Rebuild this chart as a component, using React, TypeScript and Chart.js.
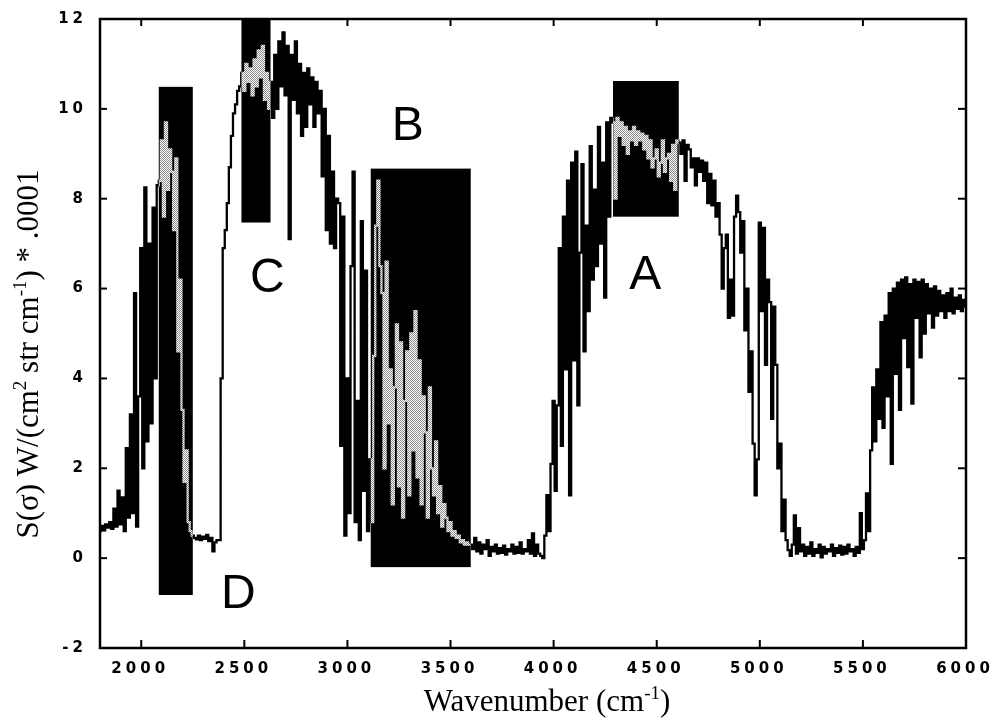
import { useEffect, useRef } from 'react';
import { Chart, registerables } from 'chart.js';

Chart.register(...registerables);

// Spectrum, sampled every 10 cm-1; each segment lists the first wavenumber and its values.
const WN_STEP = 10;
const lowEdge = [0.6, 0.72, 0.62, 0.75, 0.68, 0.8, 0.65, 1.1, 0.7, 1.5, 0.75, 1.35, 0.6, 2.45, 0.9, 3.2, 1.0, 5.9, 0.7, 3.6];
const riseD = [6.9, 2.0, 8.25, 2.6, 7.0, 3.0, 7.8, 4.0, 8.3];
const bandD = [8.4, 9.3, 7.6, 9.7, 8.2, 9.1, 8.6, 7.3, 8.9, 4.6, 6.2, 3.3, 1.7, 2.4, 0.8, 0.6, 0.5];
const floorCO2 = [0.45, 0.42, 0.5, 0.4, 0.48, 0.43, 0.52, 0.38, 0.45, 0.15, 0.35, 0.4, 0.4];
const riseC = [4.0, 6.9, 7.3, 7.9, 8.7, 9.4, 9.9, 10.1, 10.4, 10.5];
const bandC = [10.8, 10.4, 11.0, 10.6, 10.9, 10.3, 11.1, 10.5, 11.3, 10.7, 11.4, 10.2, 10.8, 10.0];
const plateau = [10.6, 9.8, 11.2, 10.0, 11.5, 10.5, 11.7, 10.3, 11.4, 7.1, 11.2, 10.2, 11.5, 9.9, 11.0, 9.4, 10.8, 9.6, 10.9, 10.1, 10.7, 9.6, 10.6, 9.9, 10.4, 8.5, 10.0, 7.3, 9.4, 7.0, 8.6, 6.9, 8.0];
const fallB = [7.9, 2.5, 7.6, 0.5, 4.0, 1.0, 6.5, 8.6, 0.8, 3.5, 0.4, 7.5, 1.5, 6.4, 0.6, 2.2];
const bandB = [0.8, 4.5, 7.4, 8.4, 6.5, 5.9, 2.0, 6.6, 3.0, 4.2, 1.2, 3.8, 5.2, 1.6, 4.8, 0.9, 3.5, 4.6, 1.4, 5.0, 2.4, 5.5, 1.8, 4.4, 1.2, 3.6, 2.8, 0.9, 3.8, 2.0, 1.4, 2.6, 1.0, 1.6, 0.7, 1.2, 0.9, 0.6, 0.8, 0.5, 0.6, 0.45, 0.5, 0.35, 0.4, 0.3, 0.35, 0.3];
const floorH2O = [0.3, 0.2, 0.45, 0.15, 0.35, 0.1, 0.3, 0.2, 0.4, 0.05, 0.25, 0.15, 0.3, 0.1, 0.22, 0.12, 0.28, 0.08, 0.2, 0.15, 0.3, 0.1, 0.25, 0.12, 0.35, 0.1, 0.2, 0.15, 0.4, 0.1, 0.55, 0.05, 0.3, 0.1, 0.05, 0.0];
const riseA = [0.5, 1.4, 0.6, 2.1, 3.5, 1.5, 3.4, 6.9, 2.5, 7.6, 4.2, 8.4, 1.4, 8.8, 4.4, 9.05, 3.4, 6.8, 8.77, 4.6, 7.4, 5.5, 9.17, 6.2, 8.2, 6.5, 9.6, 7.0, 8.8, 5.8, 9.7, 7.6, 9.8];
const bandA = [9.7, 8.0, 9.8, 9.4, 9.7, 9.2, 9.6, 9.0, 9.5, 9.3, 9.6, 9.2, 9.5, 9.3, 9.45, 9.1, 9.4, 8.9, 9.3, 8.7, 8.9, 9.1, 8.5, 8.8, 9.3, 8.6, 8.9, 9.0, 8.4, 9.2, 8.2, 9.3];
const shoulder = [9.25, 9.0, 9.3, 8.4, 9.2, 9.1, 8.7, 8.9, 8.3, 8.9, 8.6, 8.85, 8.4, 8.8, 7.9, 8.55, 7.85, 8.4, 7.6];
const fall5000 = [7.9, 7.2, 6.0, 6.9, 7.2, 5.35, 6.2, 5.4, 7.6, 8.07, 7.7, 6.8, 7.5, 5.07, 6.0, 3.7, 4.6, 2.55, 1.4, 2.2, 7.47, 5.5, 7.35, 4.3, 6.2, 5.7, 3.1, 5.6, 4.3, 2.0, 2.55, 0.6, 1.3, 0.4, 0.18];
const floor5300 = [0.05, 0.3, 0.95, 0.1, 0.67, 0.15, 0.3, 0.05, 0.25, 0.1, 0.35, 0.05, 0.2, 0.12, 0.3, 0.02, 0.25, 0.1, 0.2, 0.15, 0.3, 0.05, 0.22, 0.12, 0.28, 0.08, 0.25, 0.1, 0.3, 0.15, 0.2, 0.05, 0.25, 0.12, 1.0, 0.2, 0.4, 1.44, 0.6, 2.4, 3.8];
const highEdge = [2.6, 4.2, 3.1, 5.25, 2.9, 5.4, 3.6, 5.9, 2.1, 6.0, 4.1, 6.13, 3.3, 6.2, 4.9, 6.25, 4.25, 6.1, 3.44, 6.2, 5.35, 6.15, 4.47, 6.2, 5.0, 6.1, 5.45, 6.0, 5.13, 6.05, 5.4, 5.95, 5.5, 5.85, 5.35, 5.9, 5.5, 6.0, 5.45, 5.8, 5.55, 5.85, 5.5, 5.75, 5.6];

const SEGMENTS: [number, number[]][] = [
  [1800, lowEdge], [2000, riseD], [2090, bandD], [2260, floorCO2], [2390, riseC],
  [2490, bandC], [2630, plateau], [2960, fallB], [3120, bandB], [3600, floorH2O],
  [3960, riseA], [4290, bandA], [4610, shoulder], [4800, fall5000], [5150, floor5300],
  [5560, highEdge],
];

const X_TICKS = [2000, 2500, 3000, 3500, 4000, 4500, 5000, 5500, 6000];
const Y_TICKS = [-2, 0, 2, 4, 6, 8, 10, 12];

// Marked spectral windows (cm-1) and their signal ranges
const BANDS = [
  { name: 'A', from: 4288, to: 4607, low: 7.6, high: 10.62 },
  { name: 'B', from: 3113, to: 3598, low: -0.2, high: 8.67 },
  { name: 'C', from: 2486, to: 2627, low: 7.47, high: 12 },
  { name: 'D', from: 2085, to: 2250, low: -0.82, high: 10.49 },
];

// Where each window's letter sits, in axis units
const LETTER_AT: Record<string, [number, number]> = {
  A: [4445, 6.36],
  B: [3293, 9.69],
  C: [2612, 6.31],
  D: [2471, -0.73],
};

type Run = { t: string; sup?: boolean };
const X_TITLE: Run[] = [{ t: 'Wavenumber (cm' }, { t: '-1', sup: true }, { t: ')' }];
const Y_TITLE: Run[] = [
  { t: 'S(σ) W/(cm' }, { t: '2', sup: true }, { t: ' str cm' }, { t: '-1', sup: true }, { t: ') * .0001' },
];

const SERIF = '"Liberation Serif", "Times New Roman", serif';

function drawRuns(ctx: CanvasRenderingContext2D, runs: Run[], size: number, cx: number) {
  const fontFor = (r: Run) => `${r.sup ? Math.round(size * 0.62) : size}px ${SERIF}`;
  let total = 0;
  for (const r of runs) {
    ctx.font = fontFor(r);
    total += ctx.measureText(r.t).width;
  }
  let x = cx - total / 2;
  ctx.textAlign = 'left';
  ctx.textBaseline = 'alphabetic';
  for (const r of runs) {
    ctx.font = fontFor(r);
    ctx.fillText(r.t, x, r.sup ? -size * 0.4 : 0);
    x += ctx.measureText(r.t).width;
  }
}

function bandRect(chart: any, b: (typeof BANDS)[number]) {
  const { x, y } = chart.scales;
  const l = x.getPixelForValue(b.from);
  const r = x.getPixelForValue(b.to);
  const t = y.getPixelForValue(b.high);
  const bt = y.getPixelForValue(b.low);
  return [l, t, r - l, bt - t];
}

const bandsPlugin = {
  id: 'bands',
  beforeDatasetsDraw(chart: any) {
    const ctx = chart.ctx as CanvasRenderingContext2D;
    ctx.save();
    ctx.fillStyle = '#000';
    for (const b of BANDS) {
      const [l, t, w, h] = bandRect(chart, b);
      ctx.fillRect(l, t, w, h);
    }
    ctx.restore();
  },
  // the light copy of the spectrum only shows inside the windows
  beforeDatasetDraw(chart: any, args: any) {
    if (args.index !== 1) return;
    const ctx = chart.ctx as CanvasRenderingContext2D;
    ctx.save();
    ctx.beginPath();
    for (const b of BANDS) {
      const [l, t, w, h] = bandRect(chart, b);
      ctx.rect(l, t, w, h);
    }
    ctx.clip();
  },
  afterDatasetDraw(chart: any, args: any) {
    if (args.index !== 1) return;
    chart.ctx.restore();
  },
};

const framePlugin = {
  id: 'frame',
  afterDraw(chart: any) {
    const ctx = chart.ctx as CanvasRenderingContext2D;
    const a = chart.chartArea;
    const { x, y } = chart.scales;
    ctx.save();
    ctx.strokeStyle = '#000';
    ctx.fillStyle = '#000';
    ctx.lineWidth = 2.5;
    ctx.strokeRect(a.left, a.top, a.right - a.left, a.bottom - a.top);

    const seg = (x1: number, y1: number, x2: number, y2: number) => {
      ctx.beginPath();
      ctx.moveTo(x1, y1);
      ctx.lineTo(x2, y2);
      ctx.stroke();
    };
    ctx.lineWidth = 2;
    for (const v of x.ticks.map((t: any) => t.value)) {
      const px = x.getPixelForValue(v);
      seg(px, a.bottom, px, a.bottom - 8);
      seg(px, a.top, px, a.top + 7);
    }
    for (const v of y.ticks.map((t: any) => t.value)) {
      const py = y.getPixelForValue(v);
      seg(a.left, py, a.left + 7, py);
      seg(a.right, py, a.right - 8, py);
    }

    // tick labels
    ctx.font = 'bold 15px "DejaVu Sans", sans-serif';
    (ctx as any).letterSpacing = '4px';
    ctx.textBaseline = 'middle';
    ctx.textAlign = 'center';
    for (const t of x.ticks) {
      ctx.fillText(String(t.value), x.getPixelForValue(t.value) - 1, a.bottom + 21);
    }
    ctx.textAlign = 'right';
    for (const t of y.ticks) {
      ctx.fillText(String(t.value), a.left - 13, y.getPixelForValue(t.value));
    }
    (ctx as any).letterSpacing = '0px';

    // window letters
    ctx.font = '48px "Liberation Sans", Arial, sans-serif';
    ctx.textAlign = 'center';
    ctx.textBaseline = 'alphabetic';
    for (const b of BANDS) {
      const [wn, val] = LETTER_AT[b.name];
      ctx.fillText(b.name, x.getPixelForValue(wn), y.getPixelForValue(val) + 17);
    }

    // axis titles
    ctx.save();
    ctx.translate(0, 711);
    drawRuns(ctx, X_TITLE, 31, 547);
    ctx.restore();

    ctx.save();
    ctx.translate(38, 354);
    ctx.rotate(-Math.PI / 2);
    drawRuns(ctx, Y_TITLE, 31, 0);
    ctx.restore();

    ctx.restore();
  },
};

export default function App() {
  const canvasRef = useRef<HTMLCanvasElement | null>(null);

  useEffect(() => {
    const canvas = canvasRef.current;
    if (!canvas) return;
    const ctx = canvas.getContext('2d');
    if (!ctx) return;

    const points: { x: number; y: number }[] = [];
    for (const [start, values] of SEGMENTS) {
      values.forEach((v, i) => points.push({ x: start + i * WN_STEP, y: v }));
    }

    // stippled light grey for the trace inside the dark windows
    const tile = document.createElement('canvas');
    tile.width = 2;
    tile.height = 2;
    const tc = tile.getContext('2d')!;
    tc.fillStyle = '#ffffff';
    tc.fillRect(0, 0, 2, 2);
    tc.fillStyle = '#8c8c8c';
    tc.fillRect(0, 0, 1, 1);
    tc.fillRect(1, 1, 1, 1);
    const stipple = ctx.createPattern(tile, 'repeat') || '#cccccc';

    const chart = new Chart(canvas, {
      type: 'line',
      data: {
        datasets: [
          {
            data: points,
            borderColor: '#000000',
            borderWidth: 2.3,
            pointRadius: 0,
            stepped: 'middle',
            order: 2,
          },
          {
            data: points,
            borderColor: stipple as any,
            borderWidth: 2.3,
            pointRadius: 0,
            stepped: 'middle',
            order: 1,
          },
        ],
      },
      options: {
        responsive: false,
        animation: false,
        events: [],
        layout: { padding: { left: 100, right: 27, top: 19, bottom: 73 } },
        plugins: { legend: { display: false }, tooltip: { enabled: false } },
        scales: {
          x: {
            type: 'linear',
            min: 1800,
            max: 6000,
            display: false,
            afterBuildTicks: (s: any) => {
              s.ticks = X_TICKS.map((value) => ({ value }));
            },
          },
          y: {
            type: 'linear',
            min: -2,
            max: 12,
            display: false,
            afterBuildTicks: (s: any) => {
              s.ticks = Y_TICKS.map((value) => ({ value }));
            },
          },
        },
      },
      plugins: [bandsPlugin, framePlugin],
    });

    return () => chart.destroy();
  }, []);

  return (
    <div style={{ position: 'absolute', left: 0, top: 0, width: 993, height: 721, background: '#fff' }}>
      <canvas ref={canvasRef} width={993} height={721} />
    </div>
  );
}
